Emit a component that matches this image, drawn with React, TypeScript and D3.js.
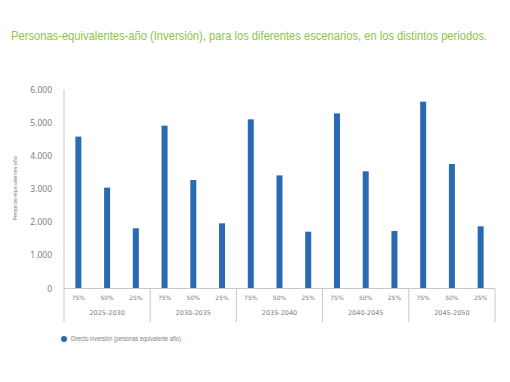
import React from "react";
import * as d3 from "d3";

const periods = ["2025-2030", "2030-2035", "2035-2040", "2040-2045", "2045-2050"];
const scenarios = ["75%", "50%", "25%"];
const values = [
  4580, 3040, 1815,
  4910, 3270, 1965,
  5100, 3410, 1712,
  5280, 3533, 1733,
  5632, 3753, 1875,
];
const yTicks = [0, 1000, 2000, 3000, 4000, 5000, 6000];
const title = "Personas-equivalentes-año (Inversión), para los diferentes escenarios, en los distintos periodos.";
const yLabel = "Personas-equivalentes-año";
const legendLabel = "Directo inversión (personas equivalente año)";

const W = 510, H = 382;
const left = 64, right = 495, top = 89.5, bottom = 288.5;

export default function App() {
  const cats = periods.flatMap((p) => scenarios.map((s) => `${p}|${s}`));
  const x = d3.scaleBand().domain(cats).range([left, right]).paddingInner(0).paddingOuter(0);
  const y = d3.scaleLinear().domain([0, 6000]).range([bottom, top]);
  const fmt = (v: number) => d3.format(",")(v).replace(/,/g, ".");
  const barW = 6;
  const groupW = (right - left) / periods.length;
  const gray = "#808080";
  const axisColor = "#c8c8c8";
  const titleRef = React.useRef<SVGTextElement>(null);
  const [sx, setSx] = React.useState(0.86);
  React.useLayoutEffect(() => {
    if (titleRef.current) {
      const w = titleRef.current.getComputedTextLength();
      if (w > 0) setSx(476 / w);
    }
  }, []);
  return (
    <svg width={W} height={H} style={{ position: "absolute", left: 0, top: 0, background: "#fff" }}>
      <g transform={`translate(11,40) scale(${sx},1)`}>
        <text ref={titleRef} x={0} y={0} fill="#8dc63f" fontFamily="'Liberation Sans', Arial, sans-serif" fontSize={12.5}>{title}</text>
      </g>
      <g transform={`translate(17,${(155 + 222) / 2}) rotate(-90) scale(0.85,1)`}>
        <text textAnchor="middle" fill={gray} fontFamily="'Liberation Sans', sans-serif" fontSize={6.2}>{yLabel}</text>
      </g>
      {yTicks.map((t) => (
        <text key={t} x={52} y={y(t) + 3} textAnchor="end" fill={gray} fontFamily="'Noto Sans', sans-serif" fontSize={8.5}>{fmt(t)}</text>
      ))}
      <line x1={left} x2={left} y1={top} y2={bottom} stroke={axisColor} strokeWidth={1} />
      {values.map((v, i) => {
        const cx = x(cats[i])! + x.bandwidth() / 2;
        return <rect key={i} x={cx - barW / 2} y={y(v)} width={barW} height={bottom - y(v)} fill="#2a6ab5" />;
      })}
      <line x1={left} x2={right} y1={bottom} y2={bottom} stroke={axisColor} strokeWidth={1} />
      {d3.range(periods.length + 1).map((i) => (
        <line key={i} x1={left + i * groupW} x2={left + i * groupW} y1={bottom} y2={322} stroke={axisColor} strokeWidth={1} />
      ))}
      {cats.map((c, i) => (
        <text key={c} x={x(c)! + x.bandwidth() / 2} y={300} textAnchor="middle" fill={gray}
          fontFamily="'DejaVu Sans', sans-serif" fontSize={6}>{scenarios[i % 3]}</text>
      ))}
      {periods.map((p, i) => (
        <text key={p} x={left + (i + 0.5) * groupW} y={315} textAnchor="middle" fill={gray}
          fontFamily="'DejaVu Sans', sans-serif" fontSize={6.5}>{p}</text>
      ))}
      <circle cx={64} cy={339} r={3} fill="#2a6ab5" />
      <g transform="translate(71,341) scale(0.88,1)">
        <text x={0} y={0} fill={gray} fontFamily="'Liberation Sans', sans-serif" fontSize={6.3}>{legendLabel}</text>
      </g>
    </svg>
  );
}
